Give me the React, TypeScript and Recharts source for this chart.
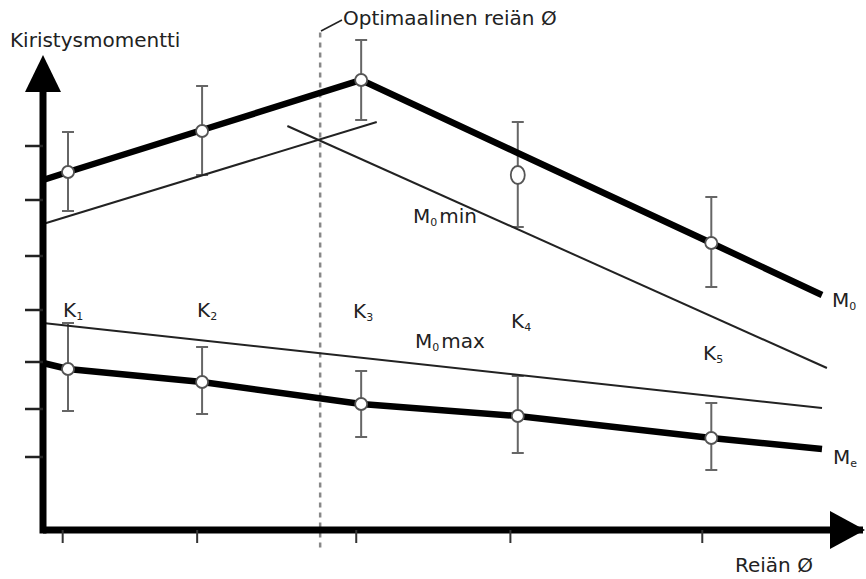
import React from 'react'
import {
  ComposedChart,
  Line,
  Scatter,
  ErrorBar,
  XAxis,
  YAxis,
  ReferenceLine,
  ReferenceDot,
  Customized,
} from 'recharts'

// K1..K5 positions along the hole diameter axis
const kLabels = ['K1', 'K2', 'K3', 'K4', 'K5']
const kX = [3.05, 19.4, 38.8, 57.9, 81.5]
const xTicks = [2.4, 18.8, 38.2, 57.0, 80.4]
const yTicks = [14.6, 24.2, 33.6, 44, 54.8, 66, 76.8]

// M0 thick line and its measured points
const m0LineX = [0, 3.05, 19.4, 38.8, 57.9, 81.5, 95]
const m0LineY = [70, 71.6, 80, 90, 75.4, 57.4, 47]
const m0Mid = [71.6, 79.8, 90, 71, 57.4]
const m0Hi = [79.6, 88.8, 98, 81.6, 66.6]
const m0Lo = [63.8, 71, 82, 60.6, 48.6]

// Me thick line and its measured points
const meLineX = [0, 3.05, 19.4, 38.8, 57.9, 81.5, 95]
const meLineY = [33.4, 32.2, 29.6, 25.2, 22.8, 18.4, 16.2]
const meMid = [32.2, 29.6, 25.2, 22.8, 18.4]
const meHi = [41.4, 36.6, 31.8, 30.8, 25.4]
const meLo = [23.8, 23.2, 18.6, 15.4, 12]

// thin limit lines
const riseX = [0, 40.7]
const riseY = [61.2, 81.6]
const minX = [29.8, 95.6]
const minY = [80.8, 32.4]
const maxX = [0, 95]
const maxY = [41.4, 24.4]

const optimumX = 33.8

const toLine = (xs: number[], ys: number[]) => xs.map((x, i) => ({ x, y: ys[i] }))
const toPoints = (mid: number[], hi: number[], lo: number[]) =>
  kX.map((x, i) => ({ x, y: mid[i], k: kLabels[i], err: [mid[i] - lo[i], hi[i] - mid[i]] }))

const m0Line = toLine(m0LineX, m0LineY)
const meLine = toLine(meLineX, meLineY)
const riseLine = toLine(riseX, riseY)
const minLine = toLine(minX, minY)
const maxLine = toLine(maxX, maxY)
const m0Points = toPoints(m0Mid, m0Hi, m0Lo)
const mePoints = toPoints(meMid, meHi, meLo)

const FONT = '"DejaVu Sans", sans-serif'
const INK = '#222'

const Circle = (props: any) => {
  const { cx, cy, payload } = props
  if (payload && payload.big) {
    return <ellipse cx={cx} cy={cy} rx={7} ry={9} fill="#fff" stroke="#555" strokeWidth={1.8} />
  }
  return <circle cx={cx} cy={cy} r={6} fill="#fff" stroke="#555" strokeWidth={1.8} />
}
const Empty = () => <g />
const noLabel = () => ''

const Sub = ({ x, y, main, sub, rest }: { x: number; y: number; main: string; sub: string; rest?: string }) => (
  <text x={x} y={y} fontSize={20} fill={INK} fontFamily={FONT}>
    {main}
    <tspan fontSize={11} dy={3}>{sub}</tspan>
    {rest ? <tspan fontSize={20} dy={-3} dx={2}>{rest}</tspan> : null}
  </text>
)

const Annotations = () => (
  <g>
    <text x={10} y={47} fontSize={20} fill={INK} fontFamily={FONT}>Kiristysmomentti</text>
    <line x1={321} y1={31} x2={342} y2={20} stroke={INK} strokeWidth={1.5} />
    <text x={343} y={25} fontSize={20} fill={INK} fontFamily={FONT}>Optimaalinen reiän Ø</text>
    <text x={735} y={572} fontSize={20} fill={INK} fontFamily={FONT}>Reiän Ø</text>
    <Sub x={63} y={317} main="K" sub="1" />
    <Sub x={197} y={317} main="K" sub="2" />
    <Sub x={353} y={318} main="K" sub="3" />
    <Sub x={511} y={328} main="K" sub="4" />
    <Sub x={703} y={360} main="K" sub="5" />
    <Sub x={413} y={223} main="M" sub="0" rest="min" />
    <Sub x={415} y={348} main="M" sub="0" rest="max" />
    <Sub x={832} y={307} main="M" sub="0" />
    <Sub x={833} y={464} main="M" sub="e" />
  </g>
)

export default function App() {
  const m0Marks = m0Points.map((p, i) => ({ ...p, big: i === 3 }))
  return (
    <div style={{ position: 'absolute', left: 0, top: 0, background: '#fff' }}>
      <ComposedChart width={866} height={579} margin={{ top: 30, right: 3, bottom: 29, left: 23 }}>
        <XAxis
          type="number"
          dataKey="x"
          domain={[0, 100]}
          ticks={xTicks}
          interval={0}
          tickFormatter={noLabel}
          tickSize={13}
          height={20}
          axisLine={{ stroke: '#000', strokeWidth: 7 }}
          tickLine={{ stroke: '#333', strokeWidth: 2 }}
        />
        <YAxis
          type="number"
          dataKey="y"
          domain={[0, 100]}
          ticks={yTicks}
          interval={0}
          tickFormatter={noLabel}
          tickSize={18}
          width={20}
          axisLine={false}
          tickLine={{ stroke: '#222', strokeWidth: 2.5 }}
        />
        <ReferenceLine
          segment={[{ x: optimumX, y: -3.5 }, { x: optimumX, y: 100 }]}
          stroke="#888"
          strokeWidth={2.5}
          strokeDasharray="5 5"
          ifOverflow="visible"
        />
        <Scatter data={m0Points} fill="none" shape={Empty} isAnimationActive={false}>
          <ErrorBar dataKey="err" direction="y" width={6} stroke="#666" strokeWidth={2} isAnimationActive={false} />
        </Scatter>
        <Scatter data={mePoints} fill="none" shape={Empty} isAnimationActive={false}>
          <ErrorBar dataKey="err" direction="y" width={6} stroke="#666" strokeWidth={2} isAnimationActive={false} />
        </Scatter>
        <Line data={riseLine} dataKey="y" stroke="#222" strokeWidth={2} dot={false} isAnimationActive={false} />
        <Line data={minLine} dataKey="y" stroke="#222" strokeWidth={2} dot={false} isAnimationActive={false} />
        <Line data={maxLine} dataKey="y" stroke="#222" strokeWidth={2} dot={false} isAnimationActive={false} />
        <Line data={m0Line} dataKey="y" stroke="#000" strokeWidth={6.5} dot={false} isAnimationActive={false} />
        <Line data={meLine} dataKey="y" stroke="#000" strokeWidth={6.5} dot={false} isAnimationActive={false} />
        <Scatter data={m0Marks} shape={Circle} isAnimationActive={false} />
        <Scatter data={mePoints} shape={Circle} isAnimationActive={false} />
        <ReferenceLine
          segment={[{ x: 0, y: -0.7 }, { x: 0, y: 88 }]}
          stroke="#000"
          strokeWidth={7}
          ifOverflow="visible"
        />
        <ReferenceDot
          x={0}
          y={95}
          ifOverflow="visible"
          shape={(p: any) => (
            <polygon points={`${p.cx},${p.cy} ${p.cx - 18},${p.cy + 37} ${p.cx + 18},${p.cy + 37}`} fill="#000" />
          )}
        />
        <ReferenceDot
          x={100}
          y={0}
          ifOverflow="visible"
          shape={(p: any) => (
            <polygon points={`${p.cx + 2},${p.cy} ${p.cx - 33},${p.cy - 19} ${p.cx - 33},${p.cy + 19}`} fill="#000" />
          )}
        />
        <Customized component={Annotations} />
      </ComposedChart>
    </div>
  )
}
